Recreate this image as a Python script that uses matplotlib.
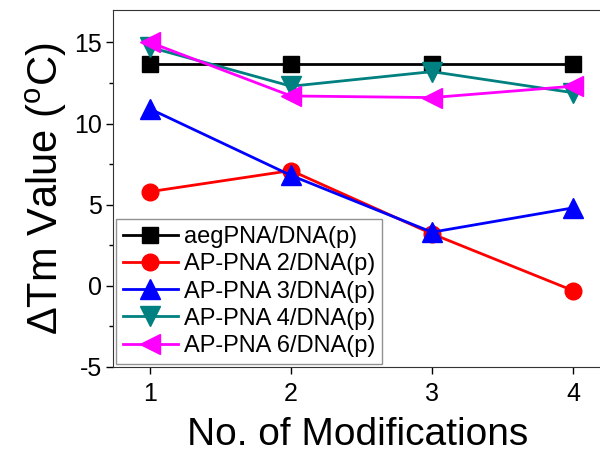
import matplotlib
matplotlib.use("Agg")
import matplotlib.pyplot as plt

plt.rcParams['font.family'] = ['Liberation Sans', 'DejaVu Sans']
plt.rcParams['mathtext.default'] = 'regular'
plt.rcParams['axes.unicode_minus'] = False

modifications = [1, 2, 3, 4]
aeg_pna = [13.7, 13.7, 13.7, 13.7]
ap_pna2 = [5.8, 7.1, 3.2, -0.3]
ap_pna3 = [10.9, 6.8, 3.3, 4.8]
ap_pna4 = [14.7, 12.3, 13.2, 11.9]
ap_pna6 = [15.0, 11.7, 11.6, 12.3]

labels = ["aegPNA/DNA(p)", "AP-PNA 2/DNA(p)", "AP-PNA 3/DNA(p)",
          "AP-PNA 4/DNA(p)", "AP-PNA 6/DNA(p)"]
colors = ["black", "#ff0000", "#0000ff", "#008080", "#ff00ff"]
markers = ["s", "o", "^", "v", "<"]
sizes = [12, 12, 14, 14, 15]

fig = plt.figure(figsize=(6, 4.54), dpi=100)
ax = fig.add_axes([0.189, 0.192, 0.813, 0.786])

series = [aeg_pna, ap_pna2, ap_pna3, ap_pna4, ap_pna6]
for vals, lab, c, m, s in zip(series, labels, colors, markers, sizes):
    ax.plot(modifications, vals, color=c, marker=m, markersize=s, lw=2, label=lab)

ax.set_xlim(0.74, 4.2)
ax.set_ylim(-5, 17)
ax.set_xticks(modifications)
ax.set_yticks([-5, 0, 5, 10, 15])
ax.set_yticks([-2.5, 2.5, 7.5, 12.5], minor=True)
ax.tick_params(axis='both', which='major', labelsize=18, length=5, width=1)
ax.tick_params(axis='x', which='major', pad=6)
ax.tick_params(axis='y', which='major', pad=3)
ax.tick_params(axis='y', which='minor', length=3, width=1)
ax.spines['right'].set_visible(False)
for sp in ax.spines.values():
    sp.set_color('#333333')

ax.set_xlabel("No. of Modifications", fontsize=28, labelpad=8)
ax.set_ylabel(r"$\Delta$Tm Value ($^{o}$C)", fontsize=30, labelpad=4)

leg = ax.legend(loc='lower left', fontsize=17, frameon=True, fancybox=False,
                borderaxespad=0.12, handlelength=2.3, handletextpad=0.25,
                labelspacing=0.22, borderpad=0.3)
leg.get_frame().set_edgecolor('#777777')
leg.get_frame().set_linewidth(1)

fig.savefig("out.png", dpi=100)
